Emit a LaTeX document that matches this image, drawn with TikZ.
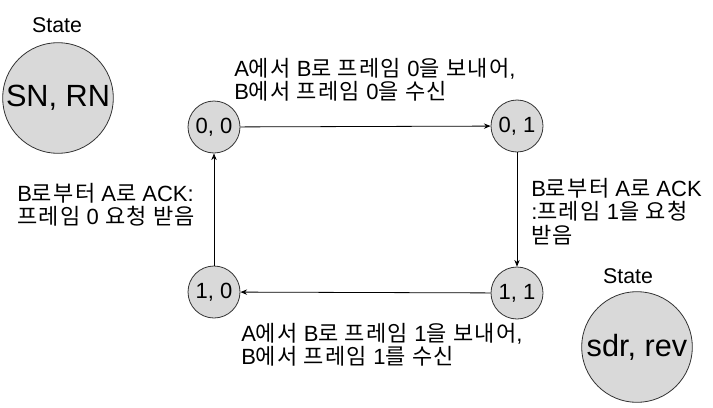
\documentclass[tikz,border=0pt]{standalone}
\usepackage{fontspec}
\setmainfont{Liberation Sans}
\newfontfamily\hgfont[LetterSpace=6]{Noto Sans CJK KR}
\newcommand{\hg}[1]{{\hgfont #1}}
\usetikzlibrary{arrows.meta}
\tikzset{
  statenode/.style={circle, draw=black!80, fill=black!15, line width=0.6pt,
    minimum size=39pt, inner sep=0pt, font=\fontsize{16.5}{18}\selectfont},
  bigstate/.style={circle, draw=black!80, fill=black!15, line width=0.6pt,
    minimum size=83pt, inner sep=0pt, font=\fontsize{23}{25}\selectfont},
  lbl/.style={anchor=north west, inner sep=0pt, align=left,
    font=\fontsize{16.5}{17.5}\selectfont},
  trans/.style={-{Stealth[length=5pt,width=4pt]}, line width=0.6pt}
}
\begin{document}
\begin{tikzpicture}[x=0.75pt,y=-0.75pt]
    \useasboundingbox (0,0) rectangle (713,407);
    % legend circles
    \node [bigstate] (legA) at (58,98) {SN, RN};
    \node [anchor=base, font=\fontsize{16}{18}\selectfont] (stA) at (57,32) {State};
    \node [bigstate] (legB) at (637,347) {sdr, rev};
    \node [anchor=base, font=\fontsize{16}{18}\selectfont] (stB) at (628,283) {State};
    % states
    \node [statenode] (s00) at (214,127) {0, 0};
    \node [statenode] (s01) at (517,126) {0, 1};
    \node [statenode] (s11) at (517,293) {1, 1};
    \node [statenode] (s10) at (214,292) {1, 0};
    % transitions
    \draw [trans] (s00) -- (s01);
    \draw [trans] (s01) -- (s11);
    \draw [trans] (s11) -- (s10);
    \draw [trans] (s10) -- (s00);
    % labels
    \node [lbl] (l0) at (234,58) {A\hg{에서} B\hg{로} \hg{프레임} 0\hg{을 보내어},\\B\hg{에서} \hg{프레임} 0\hg{을 수신}};
    \node [lbl] (l1) at (531,178) {B\hg{로부터} A\hg{로} ACK\\:\hg{프레임} 1\hg{을 요청}\\\hg{받음}};
    \node [lbl] (l2) at (241,323) {A\hg{에서} B\hg{로} \hg{프레임} 1\hg{을 보내어},\\B\hg{에서} \hg{프레임} 1\hg{를 수신}};
    \node [lbl] (l3) at (17,183) {B\hg{로부터} A\hg{로} ACK:\\\hg{프레임} 0 \hg{요청 받음}};
\end{tikzpicture}
\end{document}
